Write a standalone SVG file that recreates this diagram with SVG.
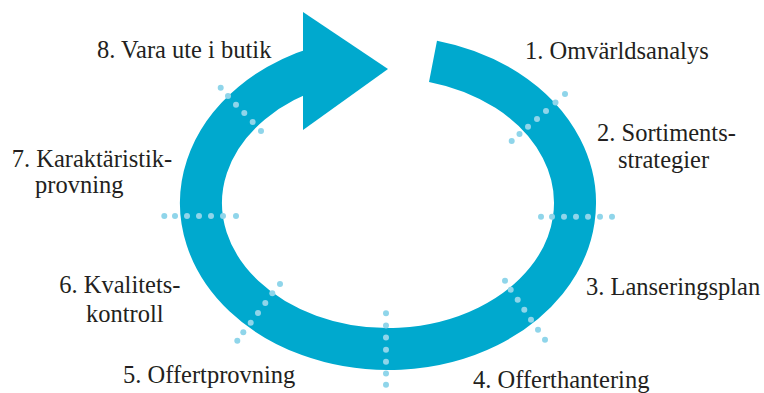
<svg xmlns="http://www.w3.org/2000/svg" width="764" height="393" viewBox="0 0 764 393">
<style>
.band{fill:none;stroke:#00A9CE;stroke-width:42;stroke-linecap:butt}
.head{fill:#00A9CE}
.dot{fill:#8FD5EA}
.lbl{font-family:"Liberation Serif","Times New Roman",serif;font-size:24.5px;fill:#231F20}
</style>
<rect width="764" height="393" fill="#ffffff"/>
<g id="connectors">
<path class="band" d="M 433 61.3 A 187 146 0 1 1 320 67"/>
<polygon class="head" points="303,12 388,69 303,130"/>
</g>
<g id="dots">
<g id="dots-1-2">
<circle class="dot" cx="511.7" cy="141" r="3"/>
<circle class="dot" cx="519.5" cy="134" r="3"/>
<circle class="dot" cx="528" cy="126.7" r="3"/>
<circle class="dot" cx="537" cy="119" r="3"/>
<circle class="dot" cx="546" cy="111" r="3"/>
<circle class="dot" cx="555.5" cy="102.5" r="3"/>
<circle class="dot" cx="565" cy="94" r="3"/>
</g>
<g id="dots-2-3">
<circle class="dot" cx="541" cy="216.7" r="3"/>
<circle class="dot" cx="552" cy="216.7" r="3"/>
<circle class="dot" cx="564" cy="216.7" r="3"/>
<circle class="dot" cx="576" cy="216.7" r="3"/>
<circle class="dot" cx="588" cy="216.7" r="3"/>
<circle class="dot" cx="600" cy="216.7" r="3"/>
<circle class="dot" cx="612" cy="216.7" r="3"/>
</g>
<g id="dots-3-4">
<circle class="dot" cx="505" cy="280.7" r="3"/>
<circle class="dot" cx="510.7" cy="289.7" r="3"/>
<circle class="dot" cx="517.7" cy="299.7" r="3"/>
<circle class="dot" cx="524.3" cy="309.7" r="3"/>
<circle class="dot" cx="531" cy="319.7" r="3"/>
<circle class="dot" cx="538" cy="329.7" r="3"/>
<circle class="dot" cx="545" cy="339.7" r="3"/>
</g>
<g id="dots-4-5">
<circle class="dot" cx="386" cy="313.3" r="3"/>
<circle class="dot" cx="386" cy="325.5" r="3"/>
<circle class="dot" cx="386" cy="337.6" r="3"/>
<circle class="dot" cx="386" cy="349.7" r="3"/>
<circle class="dot" cx="386" cy="361.7" r="3"/>
<circle class="dot" cx="386" cy="373.5" r="3"/>
<circle class="dot" cx="386" cy="384.7" r="3"/>
</g>
<g id="dots-5-6">
<circle class="dot" cx="280" cy="284" r="3"/>
<circle class="dot" cx="272.3" cy="293.3" r="3"/>
<circle class="dot" cx="265.3" cy="303" r="3"/>
<circle class="dot" cx="258" cy="313" r="3"/>
<circle class="dot" cx="250.7" cy="322.7" r="3"/>
<circle class="dot" cx="243.3" cy="332.3" r="3"/>
<circle class="dot" cx="237.3" cy="340.7" r="3"/>
</g>
<g id="dots-6-7">
<circle class="dot" cx="164.3" cy="216" r="3"/>
<circle class="dot" cx="175" cy="216" r="3"/>
<circle class="dot" cx="187" cy="216" r="3"/>
<circle class="dot" cx="199" cy="216" r="3"/>
<circle class="dot" cx="211" cy="216" r="3"/>
<circle class="dot" cx="223" cy="216" r="3"/>
<circle class="dot" cx="236" cy="216" r="3"/>
</g>
<g id="dots-7-8">
<circle class="dot" cx="220.7" cy="87.7" r="3"/>
<circle class="dot" cx="228" cy="96" r="3"/>
<circle class="dot" cx="236" cy="104.7" r="3"/>
<circle class="dot" cx="244.3" cy="113" r="3"/>
<circle class="dot" cx="252.7" cy="122" r="3"/>
<circle class="dot" cx="261" cy="131" r="3"/>
</g>
</g>
<g id="node-1"><text class="lbl" x="525" y="59">1. Omvärldsanalys</text></g>
<g id="node-2"><text class="lbl" x="597" y="140.5">2. Sortiments-</text><text class="lbl" x="618" y="168">strategier</text></g>
<g id="node-3"><text class="lbl" x="586" y="295">3. Lanseringsplan</text></g>
<g id="node-4"><text class="lbl" x="473" y="388.3">4. Offerthantering</text></g>
<g id="node-5"><text class="lbl" x="123" y="383.3">5. Offertprovning</text></g>
<g id="node-6"><text class="lbl" x="59.3" y="293.3">6. Kvalitets-</text><text class="lbl" x="86" y="322.3">kontroll</text></g>
<g id="node-7"><text class="lbl" x="11.7" y="166.7">7. Karaktäristik-</text><text class="lbl" x="35" y="193.3">provning</text></g>
<g id="node-8"><text class="lbl" x="97" y="58.3">8. Vara ute i butik</text></g>
</svg>
